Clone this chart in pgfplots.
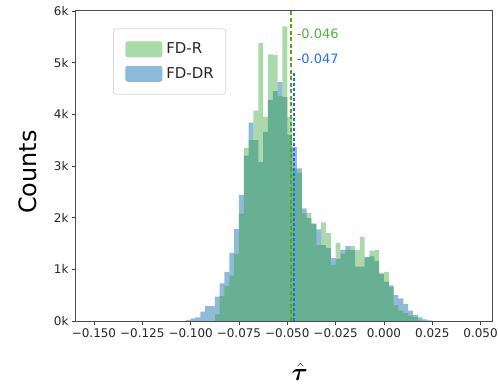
\documentclass[border=0pt]{standalone}
\usepackage{fontspec}
\setmainfont{DejaVu Sans}
\usepackage{amsmath,bm}
\usepackage{pgfplots}
\pgfplotsset{compat=1.18}
\usepackage{pgfplotstable}

\definecolor{hgreen}{RGB}{44,160,44}
\definecolor{hblue}{RGB}{31,119,180}
\definecolor{lgreen}{RGB}{80,172,10}
\definecolor{lblue}{RGB}{35,105,250}
\definecolor{tgreen}{RGB}{80,180,60}
\definecolor{tblue}{RGB}{40,110,240}

% left bin edge, count (last row = right edge of last bin)
\pgfplotstableread{
x y
-0.1025 20
-0.1000 50
-0.0975 70
-0.0950 180
-0.0925 290
-0.0900 290
-0.0875 470
-0.0850 730
-0.0825 950
-0.0800 1320
-0.0775 1780
-0.0750 2440
-0.0725 3200
-0.0700 3840
-0.0675 3500
-0.0650 3080
-0.0625 3660
-0.0600 4280
-0.0575 4450
-0.0550 4630
-0.0525 4340
-0.0500 3600
-0.0475 3370
-0.0450 2955
-0.0425 2180
-0.0400 1990
-0.0375 1880
-0.0350 1775
-0.0325 1470
-0.0300 1410
-0.0275 1215
-0.0250 1200
-0.0225 1375
-0.0200 1450
-0.0175 1375
-0.0150 1050
-0.0125 1050
-0.0100 1230
-0.0075 1250
-0.0050 1160
-0.0025 920
0.0000 760
0.0025 690
0.0050 500
0.0075 440
0.0100 330
0.0125 200
0.0150 115
0.0175 70
0.0200 30
0.0225 10
0.0250 10
}\fddr

\pgfplotstableread{
x y
-0.0875 130
-0.0850 480
-0.0825 680
-0.0800 880
-0.0775 1300
-0.0750 2080
-0.0725 3350
-0.0700 3500
-0.0675 4070
-0.0650 5385
-0.0625 3950
-0.0600 5160
-0.0575 5150
-0.0550 4350
-0.0525 5700
-0.0500 3950
-0.0475 2950
-0.0450 2860
-0.0425 2085
-0.0400 2095
-0.0375 1890
-0.0350 1470
-0.0325 1910
-0.0300 1700
-0.0275 1080
-0.0250 1510
-0.0225 1300
-0.0200 1375
-0.0175 1450
-0.0150 1375
-0.0125 1630
-0.0100 1240
-0.0075 1360
-0.0050 1375
-0.0025 910
0.0000 950
0.0025 660
0.0050 300
0.0075 200
0.0100 150
0.0125 105
0.0150 75
0.0175 10
0.0200 10
}\fdr

\begin{document}
\begin{tikzpicture}
\begin{axis}[
  width=416bp, height=310bp, scale only axis,
  xmin=-0.1593, xmax=0.0559, ymin=0, ymax=6000,
  xtick={-0.15,-0.125,-0.1,-0.075,-0.05,-0.025,0,0.025,0.05},
  xticklabels={−0.150,−0.125,−0.100,−0.075,−0.050,−0.025,0.000,0.025,0.050},
  ytick={0,1000,2000,3000,4000,5000,6000},
  yticklabels={0k,1k,2k,3k,4k,5k,6k},
  scaled x ticks=false,
  tick label style={font=\fontsize{12}{14}\selectfont, text=black!85},
  tick align=outside, xtick pos=left, ytick pos=left,
  major tick length=4bp,
  tick style={black!75, line width=0.8bp},
  axis line style={black!70, line width=1bp},
  axis on top,
  ylabel={Counts},
  ylabel style={at={(axis description cs:-0.1154,0.48)}, anchor=center, font=\fontsize{24}{28}\selectfont},
  xlabel={$\hat{\bm{\tau}}$},
  xlabel style={at={(axis description cs:0.538,-0.194)}, anchor=south, inner sep=0pt, font=\fontsize{33}{35}\selectfont},
  legend image code/.code={\fill[#1] (0bp,-8bp) rectangle (37bp,8bp);},
  legend cell align=left,
  legend style={at={(axis description cs:0.0889,0.944)}, anchor=north west,
    draw=black!15, line width=0.8bp, rounded corners=2.5bp, fill=white,
    font=\fontsize{15}{17}\selectfont, inner xsep=12bp, inner ysep=12.5bp,
    row sep=8.5bp, nodes={inner sep=0pt, text=black!85},
    /tikz/every even column/.append style={column sep=8bp},
    /tikz/every odd column/.append style={column sep=4bp}},
]
\addlegendimage{fill=hgreen, fill opacity=0.4, draw=none}
\addlegendentry{FD-R}
\addlegendimage{fill=hblue, fill opacity=0.5, draw=none}
\addlegendentry{FD-DR}

\addplot[const plot, draw=none, fill=hblue, fill opacity=0.5, forget plot] table[x=x,y=y] {\fddr} \closedcycle;
\addplot[const plot, draw=none, fill=hgreen, fill opacity=0.4, forget plot] table[x=x,y=y] {\fdr} \closedcycle;

\addplot[lgreen, line width=2bp, dash pattern=on 4bp off 2.5bp, forget plot] coordinates {(-0.0483,0) (-0.0483,6000)};
\addplot[lblue, line width=2bp, dash pattern=on 3bp off 2bp, forget plot] coordinates {(-0.0464,0) (-0.0464,4800)};

\node[anchor=west, text=tgreen, font=\fontsize{13}{15}\selectfont, inner sep=0pt] at (axis cs:-0.0452,5555) {-0.046};
\node[anchor=west, text=tblue, font=\fontsize{13}{15}\selectfont, inner sep=0pt] at (axis cs:-0.0452,5070) {-0.047};
\end{axis}
\pgfresetboundingbox
\path[use as bounding box] ([shift={(-76bp,-64bp)}]current axis.south west) rectangle ([shift={(6bp,11bp)}]current axis.north east);
\end{tikzpicture}
\end{document}
